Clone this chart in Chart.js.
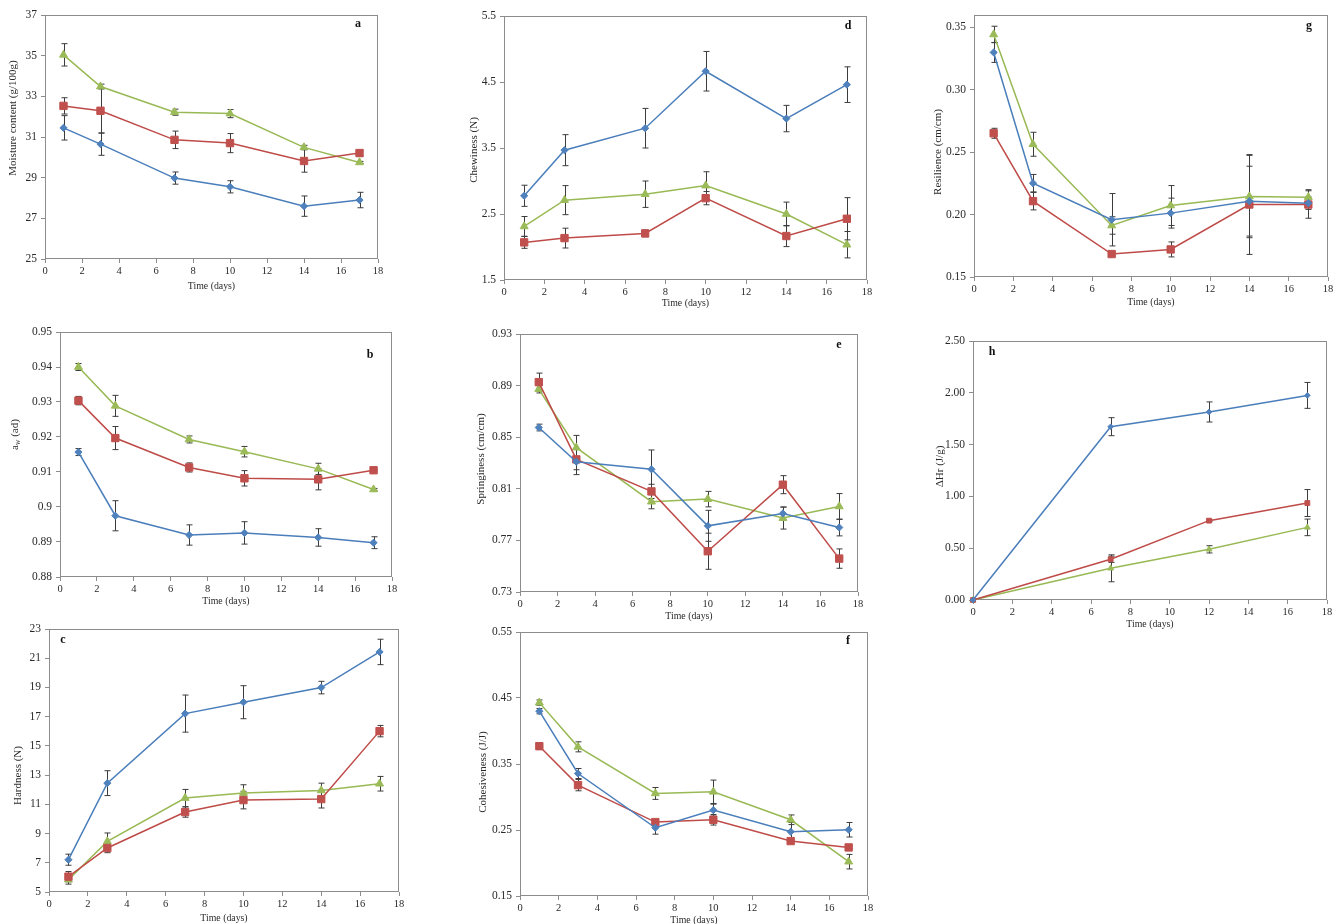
<!DOCTYPE html>
<html>
<head>
<meta charset="utf-8">
<script src="https://cdn.jsdelivr.net/npm/chart.js@4.4.1/dist/chart.umd.min.js"></script>
<style>
  html, body { margin: 0; padding: 0; background: #ffffff; width: 1341px; height: 924px; overflow: hidden; }
  .panel { position: absolute; }
</style>
</head>
<body>
<script>
// ---------- shared axis data ----------
const xTickLabels = ['0','2','4','6','8','10','12','14','16','18'];
const days = [1, 3, 7, 10, 14, 17];
const daysDH = [0, 7, 12, 17];

// ---------- (a) Moisture content ----------
const moistureTicks = ['25','27','29','31','33','35','37'];
const moistureBlue = [31.45, 30.65, 28.98, 28.55, 27.60, 27.90];
const moistureBlueErr = [0.60, 0.55, 0.30, 0.30, 0.50, 0.38];
const moistureRed = [32.53, 32.29, 30.86, 30.70, 29.82, 30.21];
const moistureRedErr = [0.40, 1.10, 0.43, 0.47, 0.55, 0.15];
const moistureGreen = [35.04, 33.48, 32.22, 32.15, 30.49, 29.75];
const moistureGreenErr = [0.55, 0.12, 0.15, 0.20, 0.10, 0.05];

// ---------- (b) aw ----------
const awTicks = ['0.88','0.89','0.9','0.91','0.92','0.93','0.94','0.95'];
const awBlue = [0.9157, 0.8975, 0.8920, 0.8926, 0.8913, 0.8898];
const awBlueErr = [0.0010, 0.0043, 0.0029, 0.0032, 0.0025, 0.0017];
const awRed = [0.9304, 0.9197, 0.9113, 0.9082, 0.9079, 0.9105];
const awRedErr = [0.0012, 0.0033, 0.0013, 0.0022, 0.0030, 0.0003];
const awGreen = [0.9400, 0.9289, 0.9193, 0.9158, 0.9109, 0.9050];
const awGreenErr = [0.0010, 0.0030, 0.0010, 0.0015, 0.0016, 0.0003];

// ---------- (c) Hardness ----------
const hardTicks = ['5','7','9','11','13','15','17','19','21','23'];
const hardBlue = [7.21, 12.45, 17.21, 17.99, 18.99, 21.43];
const hardBlueErr = [0.38, 0.85, 1.27, 1.13, 0.43, 0.87];
const hardRed = [6.05, 8.01, 10.47, 11.29, 11.36, 16.01];
const hardRedErr = [0.35, 0.32, 0.35, 0.60, 0.61, 0.39];
const hardGreen = [5.84, 8.46, 11.43, 11.77, 11.95, 12.41];
const hardGreenErr = [0.30, 0.58, 0.59, 0.57, 0.50, 0.50];

// ---------- (d) Chewiness ----------
const chewTicks = ['1.5','2.5','3.5','4.5','5.5'];
const chewBlue = [2.776, 3.467, 3.80, 4.663, 3.946, 4.46];
const chewBlueErr = [0.16, 0.235, 0.30, 0.30, 0.20, 0.27];
const chewRed = [2.07, 2.135, 2.206, 2.74, 2.166, 2.428];
const chewRedErr = [0.09, 0.15, 0.05, 0.10, 0.16, 0.32];
const chewGreen = [2.312, 2.71, 2.80, 2.93, 2.50, 2.035];
const chewGreenErr = [0.15, 0.22, 0.20, 0.21, 0.18, 0.20];

// ---------- (e) Springiness ----------
const springTicks = ['0.73','0.77','0.81','0.85','0.89','0.93'];
const springBlue = [0.8575, 0.831, 0.8251, 0.7813, 0.7909, 0.780];
const springBlueErr = [0.0026, 0.010, 0.015, 0.012, 0.005, 0.0065];
const springRed = [0.8927, 0.8328, 0.808, 0.7616, 0.8132, 0.7559];
const springRedErr = [0.007, 0.008, 0.0055, 0.014, 0.007, 0.0075];
const springGreen = [0.8873, 0.8419, 0.800, 0.802, 0.7873, 0.7963];
const springGreenErr = [0.003, 0.0095, 0.0055, 0.006, 0.0085, 0.010];

// ---------- (f) Cohesiveness ----------
const cohTicks = ['0.15','0.25','0.35','0.45','0.55'];
const cohBlue = [0.430, 0.3356, 0.2534, 0.2801, 0.2474, 0.2504];
const cohBlueErr = [0.004, 0.0076, 0.0097, 0.009, 0.014, 0.011];
const cohRed = [0.377, 0.318, 0.262, 0.2655, 0.2332, 0.2236];
const cohRedErr = [0.005, 0.0086, 0.003, 0.008, 0.002, 0.002];
const cohGreen = [0.443, 0.376, 0.3054, 0.3079, 0.2655, 0.202];
const cohGreenErr = [0.004, 0.0076, 0.009, 0.0177, 0.0073, 0.011];

// ---------- (g) Resilience ----------
const resTicks = ['0.15','0.20','0.25','0.30','0.35'];
const resBlue = [0.330, 0.2252, 0.1959, 0.2012, 0.2108, 0.2092];
const resBlueErr = [0.008, 0.007, 0.021, 0.012, 0.028, 0.005];
const resRed = [0.2652, 0.2108, 0.1684, 0.1721, 0.2081, 0.2081];
const resRedErr = [0.004, 0.007, 0.001, 0.006, 0.040, 0.011];
const resGreen = [0.3444, 0.2564, 0.1913, 0.2073, 0.2145, 0.2140];
const resGreenErr = [0.0066, 0.0096, 0.007, 0.016, 0.033, 0.006];

// ---------- (h) ΔHr ----------
const dhTicks = ['0.00','0.50','1.00','1.50','2.00','2.50'];
const dhBlue = [0, 1.673, 1.815, 1.975];
const dhBlueErr = [0, 0.087, 0.097, 0.125];
const dhRed = [0, 0.393, 0.766, 0.936];
const dhRedErr = [0, 0.03, 0.01, 0.13];
const dhGreen = [0, 0.306, 0.489, 0.701];
const dhGreenErr = [0, 0.13, 0.035, 0.08];

// ---------- styling ----------
const FONT = "'Liberation Serif', 'Times New Roman', serif";
const AXIS_COLOR = '#8c8c8c';
const TEXT_COLOR = '#2a2a2a';
const BLUE = { line: '#4a7ebb', fill: '#4f81bd' };
const RED = { line: '#be4b48', fill: '#c0504d' };
const GREEN = { line: '#98b954', fill: '#9bbb59' };

const decorPlugin = {
  id: 'panelDecor',
  beforeDatasetsDraw(chart) {
    const { ctx, chartArea: ca, scales } = chart;
    ctx.save();
    ctx.strokeStyle = AXIS_COLOR;
    ctx.lineWidth = 1;
    ctx.strokeRect(Math.round(ca.left) + 0.5, Math.round(ca.top) + 0.5,
                   Math.round(ca.right - ca.left) - 1, Math.round(ca.bottom - ca.top) - 1);
    ctx.restore();
    chart.data.datasets.forEach((ds, i) => {
      ctx.save();
      ctx.strokeStyle = '#3c3c3c';
      ctx.lineWidth = 1;
      ds.data.forEach((p, j) => {
        const e = ds.errors ? ds.errors[j] : 0;
        if (!e) return;
        const x = Math.round(scales.x.getPixelForValue(p.x)) + 0.5;
        const y1 = scales.y.getPixelForValue(p.y + e);
        const y2 = scales.y.getPixelForValue(p.y - e);
        ctx.beginPath();
        ctx.moveTo(x, y1); ctx.lineTo(x, y2);
        ctx.moveTo(x - 3, y1); ctx.lineTo(x + 3, y1);
        ctx.moveTo(x - 3, y2); ctx.lineTo(x + 3, y2);
        ctx.stroke();
      });
      ctx.restore();
    });
  },
  afterDraw(chart, args, opts) {
    const { ctx, chartArea: ca } = chart;
    ctx.save();
    ctx.fillStyle = TEXT_COLOR;
    // x title
    ctx.font = `9.8px ${FONT}`;
    ctx.textAlign = 'center';
    ctx.textBaseline = 'middle';
    ctx.fillText(opts.xTitle, (ca.left + ca.right) / 2, ca.bottom + opts.xTitleDy);
    // y title (rich parts, rotated)
    const cx = ca.left + opts.yTitleDx;
    const cy = (ca.top + ca.bottom) / 2 + opts.yTitleDy;
    ctx.translate(cx, cy);
    ctx.rotate(-Math.PI / 2);
    const parts = opts.yTitle;
    let total = 0;
    parts.forEach(pt => {
      ctx.font = pt.sub ? `7.5px ${FONT}` : `11px ${FONT}`;
      pt.w = ctx.measureText(pt.t).width;
      total += pt.w;
    });
    let xx = -total / 2;
    ctx.textAlign = 'left';
    parts.forEach(pt => {
      ctx.font = pt.sub ? `7.5px ${FONT}` : `11px ${FONT}`;
      ctx.fillText(pt.t, xx, pt.sub ? 3 : 0);
      xx += pt.w;
    });
    ctx.restore();
    // panel letter
    ctx.save();
    ctx.fillStyle = '#111';
    ctx.font = `bold 12px ${FONT}`;
    ctx.textAlign = 'center';
    ctx.textBaseline = 'middle';
    const lx = opts.letterFromLeft ? ca.left + opts.letterDx : ca.right + opts.letterDx;
    ctx.fillText(opts.letter, lx, ca.top + opts.letterDy);
    ctx.restore();
  }
};

function series(label, xs, ys, errs, col, style, radius) {
  return {
    label: label,
    data: xs.map((x, i) => ({ x: x, y: ys[i] })),
    errors: errs,
    borderColor: col.line,
    backgroundColor: col.fill,
    pointBackgroundColor: col.fill,
    pointBorderColor: col.fill,
    pointStyle: style,
    pointRadius: radius,
    pointBorderWidth: 1,
    borderWidth: 1.5,
    tension: 0,
    clip: false
  };
}

function makePanel(p) {
  const padT = 12, padR = 14, yW = 55, xH = 40;
  const w = p.R - p.L + yW + padR;
  const h = p.B - p.T + padT + xH;
  const div = document.createElement('div');
  div.className = 'panel';
  div.style.left = (p.L - yW) + 'px';
  div.style.top = (p.T - padT) + 'px';
  div.style.width = w + 'px';
  div.style.height = h + 'px';
  const canvas = document.createElement('canvas');
  canvas.width = w; canvas.height = h;
  canvas.style.width = w + 'px'; canvas.style.height = h + 'px';
  div.appendChild(canvas);
  document.body.appendChild(div);

  const r = p.small ? [2.8, 3.4, 3.4] : [3.6, 5.2, 4.6];
  const xs = p.days;
  new Chart(canvas.getContext('2d'), {
    type: 'line',
    data: {
      datasets: [
        series('Series 1', xs, p.blue, p.blueErr, BLUE, 'rectRot', r[0]),
        series('Series 2', xs, p.red, p.redErr, RED, 'rect', r[1]),
        series('Series 3', xs, p.green, p.greenErr, GREEN, 'triangle', r[2])
      ]
    },
    options: {
      responsive: false,
      animation: false,
      devicePixelRatio: 1,
      layout: { padding: { top: padT, right: padR, left: 0, bottom: 0 } },
      plugins: {
        legend: { display: false },
        tooltip: { enabled: false },
        panelDecor: {
          xTitle: 'Time (days)',
          xTitleDy: p.xTitleDy,
          yTitle: p.yTitle,
          yTitleDx: p.yTitleDx,
          yTitleDy: p.yTitleDy,
          letter: p.letter,
          letterFromLeft: p.letterFromLeft,
          letterDx: p.letterDx,
          letterDy: p.letterDy
        }
      },
      scales: {
        x: {
          type: 'linear',
          min: 0, max: 18,
          afterBuildTicks: s => { s.ticks = xTickLabels.map(v => ({ value: parseFloat(v) })); },
          afterFit: s => { s.height = xH; },
          ticks: { autoSkip: false, maxRotation: 0, padding: 2, font: { family: FONT, size: 10.5 }, color: TEXT_COLOR,
                   callback: (v, i) => xTickLabels[i] },
          grid: { display: true, drawOnChartArea: false, drawTicks: true, tickLength: 4, color: AXIS_COLOR },
          border: { display: false }
        },
        y: {
          type: 'linear',
          min: p.yMin, max: p.yMax,
          afterBuildTicks: s => { s.ticks = p.yTicks.map(v => ({ value: parseFloat(v) })); },
          afterFit: s => { s.width = yW; },
          ticks: { autoSkip: false, padding: 4, font: { family: FONT, size: 11.5 }, color: TEXT_COLOR,
                   callback: (v, i) => p.yTicks[i] },
          grid: { display: true, drawOnChartArea: false, drawTicks: true, tickLength: 4, color: AXIS_COLOR },
          border: { display: false }
        }
      }
    },
    plugins: [decorPlugin]
  });
}

const panels = [
  { letter: 'a', L: 45, T: 15, R: 378, B: 259, yMin: 25, yMax: 37, yTicks: moistureTicks, days: days,
    blue: moistureBlue, blueErr: moistureBlueErr, red: moistureRed, redErr: moistureRedErr,
    green: moistureGreen, greenErr: moistureGreenErr,
    yTitle: [{ t: 'Moisture content (g/100g)' }], yTitleDx: -32, yTitleDy: -19, xTitleDy: 27,
    letterFromLeft: false, letterDx: -20, letterDy: 9 },
  { letter: 'b', L: 60, T: 332, R: 392, B: 577, yMin: 0.88, yMax: 0.95, yTicks: awTicks, days: days,
    blue: awBlue, blueErr: awBlueErr, red: awRed, redErr: awRedErr, green: awGreen, greenErr: awGreenErr,
    yTitle: [{ t: 'a' }, { t: 'w', sub: true }, { t: ' (ad)' }], yTitleDx: -45, yTitleDy: -20, xTitleDy: 24,
    letterFromLeft: false, letterDx: -22, letterDy: 23 },
  { letter: 'c', L: 49, T: 629, R: 399, B: 892, yMin: 5, yMax: 23, yTicks: hardTicks, days: days,
    blue: hardBlue, blueErr: hardBlueErr, red: hardRed, redErr: hardRedErr, green: hardGreen, greenErr: hardGreenErr,
    yTitle: [{ t: 'Hardness (N)' }], yTitleDx: -31, yTitleDy: 15, xTitleDy: 26,
    letterFromLeft: true, letterDx: 14, letterDy: 11 },
  { letter: 'd', L: 504, T: 16, R: 867, B: 280, yMin: 1.5, yMax: 5.5, yTicks: chewTicks, days: days,
    blue: chewBlue, blueErr: chewBlueErr, red: chewRed, redErr: chewRedErr, green: chewGreen, greenErr: chewGreenErr,
    yTitle: [{ t: 'Chewiness (N)' }], yTitleDx: -30, yTitleDy: 2, xTitleDy: 23,
    letterFromLeft: false, letterDx: -19, letterDy: 10 },
  { letter: 'e', L: 520, T: 334, R: 858, B: 592, yMin: 0.73, yMax: 0.93, yTicks: springTicks, days: days,
    blue: springBlue, blueErr: springBlueErr, red: springRed, redErr: springRedErr, green: springGreen, greenErr: springGreenErr,
    yTitle: [{ t: 'Springiness (cm/cm)' }], yTitleDx: -39, yTitleDy: -4, xTitleDy: 24,
    letterFromLeft: false, letterDx: -19, letterDy: 11 },
  { letter: 'f', L: 520, T: 632, R: 868, B: 896, yMin: 0.15, yMax: 0.55, yTicks: cohTicks, days: days,
    blue: cohBlue, blueErr: cohBlueErr, red: cohRed, redErr: cohRedErr, green: cohGreen, greenErr: cohGreenErr,
    yTitle: [{ t: 'Cohesiveness (J/J)' }], yTitleDx: -37, yTitleDy: 8, xTitleDy: 24,
    letterFromLeft: false, letterDx: -20, letterDy: 9 },
  { letter: 'g', L: 974, T: 15, R: 1328, B: 277, yMin: 0.15, yMax: 0.36, yTicks: resTicks, days: days,
    blue: resBlue, blueErr: resBlueErr, red: resRed, redErr: resRedErr, green: resGreen, greenErr: resGreenErr,
    yTitle: [{ t: 'Resilience (cm/cm)' }], yTitleDx: -36, yTitleDy: 6, xTitleDy: 25,
    letterFromLeft: false, letterDx: -19, letterDy: 11 },
  { letter: 'h', L: 973, T: 341, R: 1327, B: 600, yMin: 0, yMax: 2.5, yTicks: dhTicks, days: daysDH, small: true,
    blue: dhBlue, blueErr: dhBlueErr, red: dhRed, redErr: dhRedErr, green: dhGreen, greenErr: dhGreenErr,
    yTitle: [{ t: '\u0394Hr (J/g)' }], yTitleDx: -33, yTitleDy: -4, xTitleDy: 24,
    letterFromLeft: true, letterDx: 19, letterDy: 11 }
];

panels.forEach(makePanel);
</script>
</body>
</html>
